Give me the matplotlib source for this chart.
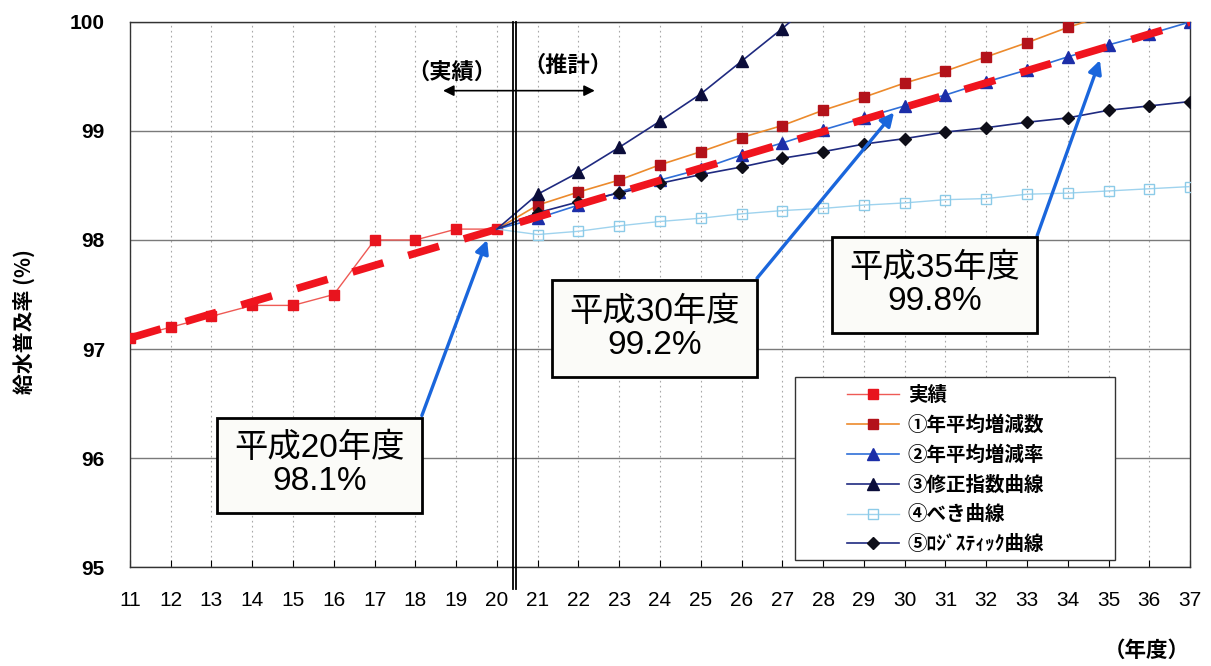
import matplotlib
matplotlib.use('Agg')
import matplotlib.pyplot as plt
from matplotlib import font_manager
from matplotlib.patches import Rectangle

plt.rcParams['font.family'] = ['Liberation Sans', 'Noto Sans CJK JP', 'DejaVu Sans']

# data
years_actual = [11, 12, 13, 14, 15, 16, 17, 18, 19, 20]
rate_actual = [97.1, 97.2, 97.3, 97.4, 97.4, 97.5, 98.0, 98.0, 98.1, 98.1]

years_diff = list(range(20, 36))
rate_diff = [98.1, 98.32, 98.44, 98.55, 98.69, 98.81, 98.94, 99.05, 99.19,
             99.31, 99.44, 99.55, 99.68, 99.81, 99.95, 100.07]

years_ratio = list(range(20, 38))
rate_ratio = [98.1, 98.2, 98.32, 98.44, 98.55, 98.65, 98.78, 98.89, 99.01,
              99.12, 99.23, 99.33, 99.45, 99.56, 99.68, 99.79, 99.89, 100.0]

years_modexp = list(range(20, 29))
rate_modexp = [98.1, 98.42, 98.62, 98.85, 99.09, 99.34, 99.64, 99.94, 100.26]

years_power = list(range(20, 38))
rate_power = [98.1, 98.05, 98.08, 98.13, 98.17, 98.2, 98.24, 98.27, 98.29,
              98.32, 98.34, 98.37, 98.38, 98.42, 98.43, 98.45, 98.47, 98.49]

years_logis = list(range(20, 38))
rate_logis = [98.1, 98.25, 98.35, 98.43, 98.52, 98.6, 98.67, 98.75, 98.81,
              98.88, 98.93, 98.99, 99.03, 99.08, 99.12, 99.19, 99.23, 99.27]

years_trend = [11, 20, 37]
rate_trend = [97.1, 98.1, 100.0]

x_ticks = list(range(11, 38))
y_ticks = [95, 96, 97, 98, 99, 100]

labels = ['実績', '①年平均増減数', '②年平均増減率', '③修正指数曲線',
          '④べき曲線', '⑤ﾛｼﾞｽﾃｨｯｸ曲線']

# (text, box left/bottom/right/top in data units, arrow start, arrow tip)
callouts = [('平成20年度\n98.1%', (13.13, 95.50, 18.16, 96.37), (18.16, 96.39), (19.76, 98.0)),
            ('平成30年度\n99.2%', (21.35, 96.74, 26.38, 97.63), (26.38, 97.65), (29.74, 99.17)),
            ('平成35年度\n99.8%', (28.22, 97.15, 33.25, 98.03), (33.25, 98.04), (34.79, 99.65))]


def narrow_family():
    try:
        font_manager.findfont('Liberation Sans Narrow', fallback_to_default=False)
        return ['Liberation Sans Narrow']
    except Exception:
        return ['Liberation Sans']


fig = plt.figure(figsize=(12.11, 6.66), dpi=100)
ax = fig.add_axes([0.1073, 0.1486, 0.8754, 0.8184])

ax.plot(years_actual, rate_actual, color='#ee5a55', lw=1.0, marker='s', ms=7,
        mfc='#e8141e', mec='#e8141e', label=labels[0], zorder=4)
ax.plot(years_diff, rate_diff, color='#ec8a2c', lw=1.2, marker='s', ms=7,
        mfc='#b3121a', mec='#b3121a', markevery=slice(1, None), label=labels[1], zorder=4)
ax.plot(years_ratio, rate_ratio, color='#2f6fd8', lw=1.2, marker='^', ms=8,
        mfc='#1c2ea8', mec='#1c2ea8', markevery=slice(1, None), label=labels[2], zorder=4)
ax.plot(years_modexp, rate_modexp, color='#1f2a80', lw=1.2, marker='^', ms=8,
        mfc='#0b0d3a', mec='#0b0d3a', markevery=slice(1, None), label=labels[3], zorder=4)
ax.plot(years_power, rate_power, color='#9fd3ee', lw=1.0, marker='s', ms=7,
        mfc='none', mec='#8ccbe8', mew=1.0, markevery=slice(1, None), label=labels[4], zorder=4)
ax.plot(years_logis, rate_logis, color='#1f2a80', lw=1.2, marker='D', ms=6.5,
        mfc='#0e0e18', mec='#0e0e18', markevery=slice(1, None), label=labels[5], zorder=4)

ax.plot(years_trend, rate_trend, color='#f0141e', lw=5.5, dashes=(4.2, 3.4),
        solid_capstyle='butt', dash_capstyle='butt', zorder=5)

ax.set_xlim(11, 37)
ax.set_ylim(95, 100)
ax.set_xticks(x_ticks)
ax.set_xticklabels([str(v) for v in x_ticks], family=narrow_family(), fontsize=15)
ax.set_yticks(y_ticks)
ax.set_yticklabels([str(v) for v in y_ticks], fontsize=15, fontweight='bold')
ax.tick_params(axis='x', direction='in', length=5, pad=17)
ax.tick_params(axis='y', direction='in', length=0, pad=18)

ax.grid(axis='y', color='#7a7a7a', lw=1.0)
ax.grid(axis='x', color='#a8a8a8', lw=0.8, ls=(0, (1.5, 3)))
ax.set_axisbelow(True)
for s in ax.spines.values():
    s.set_color('#333333')
    s.set_linewidth(1.0)

ax.set_ylabel('給水普及率 (%)', family=['Noto Sans CJK JP'], fontsize=15, fontweight='bold')
ax.yaxis.set_label_coords(-0.0896, 0.451)
fig.text(0.947, 0.024, '（年度）', family=['Noto Sans CJK JP'], fontsize=15.5,
         fontweight='bold', ha='center', va='center')

# actual / estimate divider
for xv in (20.40, 20.48):
    ax.plot([xv, xv], [94.8, 100], color='black', lw=1.3, clip_on=False, zorder=6)
ax.annotate('', xy=(18.68, 99.37), xytext=(22.4, 99.37),
            arrowprops=dict(arrowstyle='<|-|>', color='black', lw=1.2,
                            mutation_scale=16, shrinkA=0, shrinkB=0))
ax.text(18.9, 99.54, '（実績）', family=['Noto Sans CJK JP'], fontsize=16,
        ha='center', va='center', fontweight='bold')
ax.text(21.74, 99.6, '（推計）', family=['Noto Sans CJK JP'], fontsize=16,
        ha='center', va='center', fontweight='bold')

for text, (x0, y0, x1, y1), corner, tip in callouts:
    ax.annotate('', xy=tip, xytext=corner, zorder=7,
                arrowprops=dict(arrowstyle='-|>', color='#1a66dc', lw=2.4,
                                mutation_scale=20, shrinkA=0, shrinkB=0))
    ax.add_patch(Rectangle((x0, y0), x1 - x0, y1 - y0, fc='#fbfbf8', ec='black',
                           lw=2, zorder=8))
    ax.text((x0 + x1) / 2, (y0 + y1) / 2, text, fontsize=24, ha='center', va='center',
            linespacing=1.1, zorder=9)

# legend frame drawn separately so the handles can sit inset like the original
ax.add_patch(Rectangle((0.627, 0.013), 0.302, 0.336, transform=ax.transAxes,
                       fc='white', ec='#333333', lw=1.0, zorder=9))
leg = ax.legend(loc='upper left', bbox_to_anchor=(0.676, 0.333),
                frameon=False, prop={'family': ['Noto Sans CJK JP'], 'size': 14,
                                     'weight': 'bold'},
                handlelength=2.7, labelspacing=0.55, borderpad=0,
                handletextpad=0.45, borderaxespad=0)
leg.set_zorder(10)

fig.savefig('out.png', dpi=100)
